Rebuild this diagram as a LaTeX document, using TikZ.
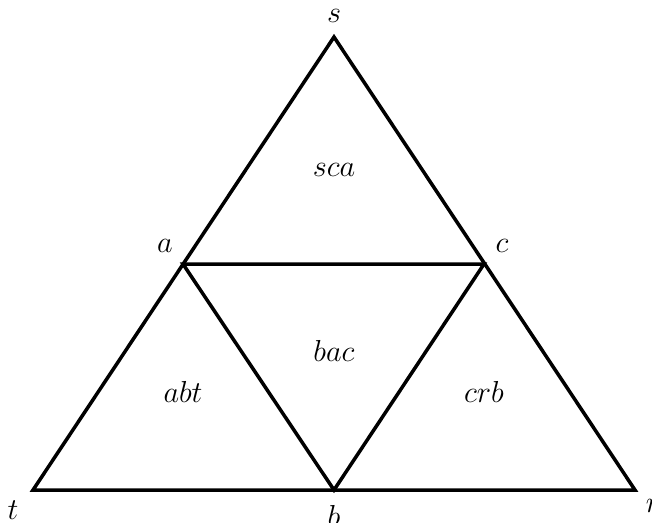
\documentclass[tikz,border=0pt]{standalone}
\begin{document}
\begin{tikzpicture}[x=0.02cm,y=-0.02cm,
  edge/.style={line width=2pt, line join=miter},
  lbl/.style={font=\LARGE, inner sep=0pt}]
\useasboundingbox (0,0) rectangle (652,522);
\coordinate (s) at (334,37);
\coordinate (t) at (33,490);
\coordinate (r) at (635,490);
\coordinate (a) at (183,264);
\coordinate (c) at (484,264);
\coordinate (b) at (334,490);
\draw[edge] (s) -- (t) -- (r) -- cycle;
\draw[edge] (a) -- (c) -- (b) -- cycle;
\node[lbl] (ls) at (334,16) {$s$};
\node[lbl] (la) at (165,246) {$a$};
\node[lbl] (lc) at (502,246) {$c$};
\node[lbl] (lt) at (13,510) {$t$};
\node[lbl] (lb) at (334,516) {$b$};
\node[lbl] (lr) at (653,506) {$r$};
\node[lbl] (fsca) at (334,170) {$sca$};
\node[lbl] (fbac) at (334,351) {$bac$};
\node[lbl] (fabt) at (183,392) {$abt$};
\node[lbl] (fcrb) at (484,392) {$crb$};
\end{tikzpicture}
\end{document}
